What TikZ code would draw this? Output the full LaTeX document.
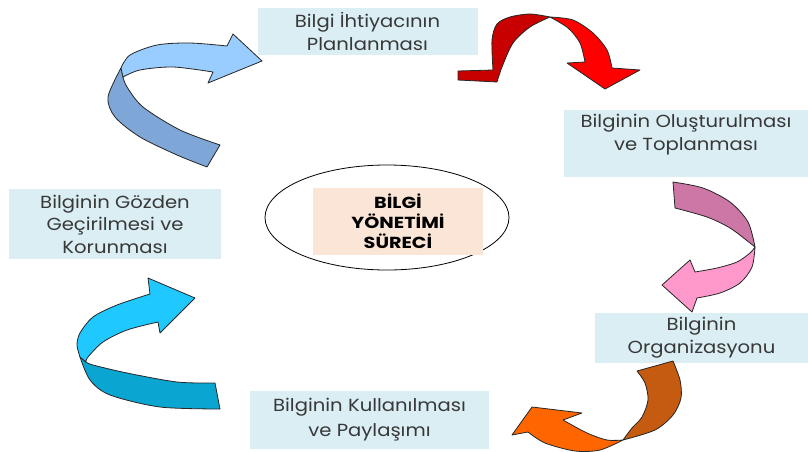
\documentclass[tikz,border=0pt]{standalone}
\usepackage{fontspec}
\setmainfont{Poppins}[FakeStretch=1.12]
\definecolor{kutumavi}{HTML}{DAEEF3}
\definecolor{seftali}{HTML}{FBE5D6}
\definecolor{yazigri}{HTML}{383838}
\definecolor{maviarka}{HTML}{7EA6D6}
\definecolor{maviacik}{HTML}{99CCFF}
\definecolor{kirmiziarka}{HTML}{C80000}
\definecolor{kirmizi}{HTML}{FF0000}
\definecolor{pembearka}{HTML}{CC77A6}
\definecolor{pembe}{HTML}{FF99CC}
\definecolor{turuncuarka}{HTML}{C55A11}
\definecolor{turuncu}{HTML}{FF6600}
\definecolor{camgobegiarka}{HTML}{0AA5D0}
\definecolor{camgobegi}{HTML}{1FC8FF}
\usetikzlibrary{shapes.geometric}
\tikzset{
  kutu/.style={fill=kutumavi, inner sep=0pt, align=center, text=yazigri,
    font=\fontsize{17.5}{23}\selectfont},
  serit/.style={draw=black!85, line width=0.8pt, line join=round},
}

\begin{document}
\begin{tikzpicture}[x=1pt, y=-1pt]
\fill[white] (0,0) rectangle (808,452);
\useasboundingbox (0,0) rectangle (808,452);
% kutular
\node[kutu, minimum width=220, minimum height=47] (planlama) at (367.5,31.5) {Bilgi İhtiyacının\\Planlanması};
\node[kutu, minimum width=244, minimum height=67] (olusturma) at (686,143.5) {};
\node[kutu, fill=none] at ([yshift=9]olusturma.center) {Bilginin Oluşturulması\\ve Toplanması};
\node[kutu, minimum width=213, minimum height=50] (organizasyon) at (701.5,338) {Bilginin\\Organizasyonu};
\node[kutu, minimum width=239, minimum height=58, font=\fontsize{17.5}{25}\selectfont] (kullanim) at (369.5,420) {Bilginin Kullanılması\\ve Paylaşımı};
\node[kutu, minimum width=212, minimum height=70, font=\fontsize{17.5}{22.5}\selectfont] (gozden) at (115,224) {Bilginin Gözden\\Geçirilmesi ve\\Korunması};
% orta
\node[draw, ellipse, line width=0.8pt, minimum width=244, minimum height=105] (surec) at (387,217.5) {};
\node[fill=seftali, minimum width=170, minimum height=67, inner sep=0pt, align=center,
  font=\fontsize{16}{20}\selectfont\bfseries\addfontfeatures{FakeStretch=1.2}] (baslik) at (398,221) {BİLGİ\\YÖNETİMİ\\SÜRECİ};
% mavi ok
\filldraw[serit, fill=maviarka] (121,68) -- plot[smooth] coordinates {(121,68) (108,97) (115,117) (140,137) (177,155) (207,167)}
  -- (220,145) -- plot[smooth] coordinates {(220,145) (180,130) (143,107) (127,87) (123,77)} -- cycle;
\filldraw[serit, fill=maviacik] (121,68) -- plot[smooth] coordinates {(121,68) (130,55) (157,45) (190,43) (227,46)}
  -- (233,34) -- (262,61) -- (208,83) -- (213,72) -- plot[smooth] coordinates {(213,72) (173,67) (140,70) (123,77)} -- cycle;
% kirmizi ok
\filldraw[serit, fill=kirmiziarka] (458,71) -- (493,70) -- plot[smooth] coordinates {(493,70) (492,40) (497,24) (510,17) (530,14) (550,17)}
  -- plot[smooth] coordinates {(550,17) (530,27) (513,43) (502,67) (497,82)} -- (458,80) -- cycle;
\filldraw[serit, fill=kirmizi] (550,17) -- plot[smooth] coordinates {(550,17) (573,20) (593,33) (607,50) (612,68)}
  -- (640,70) -- (605,89) -- (567,63) -- (585,62) -- plot[smooth] coordinates {(585,62) (580,43) (568,28) (550,17)} -- cycle;
% pembe ok
\filldraw[serit, fill=pembearka] (673,182) -- plot[smooth] coordinates {(673,182) (703,188) (730,202) (748,222) (755,247)}
  -- plot[smooth] coordinates {(755,247) (750,243) (730,228) (707,217) (675,208)} -- cycle;
\filldraw[serit, fill=pembe] (755,247) -- plot[smooth] coordinates {(755,247) (752,267) (740,283) (720,293) (697,298)}
  -- (692,312) -- (662,285) -- (690,260) -- (695,272) -- plot[smooth] coordinates {(695,272) (717,268) (737,262) (750,253) (755,247)} -- cycle;
% turuncu ok
\filldraw[serit, fill=turuncuarka] (637,371) -- (673,361) -- plot[smooth] coordinates {(673,361) (680,380) (681,398) (673,415) (655,430) (623,440)}
  -- plot[smooth] coordinates {(623,440) (632,428) (642,417) (648,400) (645,383) (637,371)} -- cycle;
\filldraw[serit, fill=turuncu] (623,440) -- plot[smooth] coordinates {(623,440) (600,450) (575,451) (545,443) (528,432)}
  -- (512,435) -- (532,407) -- (582,413) -- (563,420) -- plot[smooth] coordinates {(563,420) (587,433) (607,440) (623,440)} -- cycle;
% camgobegi ok
\filldraw[serit, fill=camgobegiarka] (80,357) -- plot[smooth] coordinates {(80,357) (90,380) (110,395) (160,407) (220,409)}
  -- (215,383) -- plot[smooth] coordinates {(215,383) (177,382) (127,373) (93,365) (86,362)} -- cycle;
\filldraw[serit, fill=camgobegi] (80,357) -- plot[smooth] coordinates {(80,357) (77,345) (80,333) (93,317) (117,305) (150,294)}
  -- (148,278) -- (195,298) -- (160,333) -- (158,322) -- plot[smooth] coordinates {(158,322) (127,330) (103,342) (88,357) (86,362)} -- cycle;
\end{tikzpicture}
\end{document}
